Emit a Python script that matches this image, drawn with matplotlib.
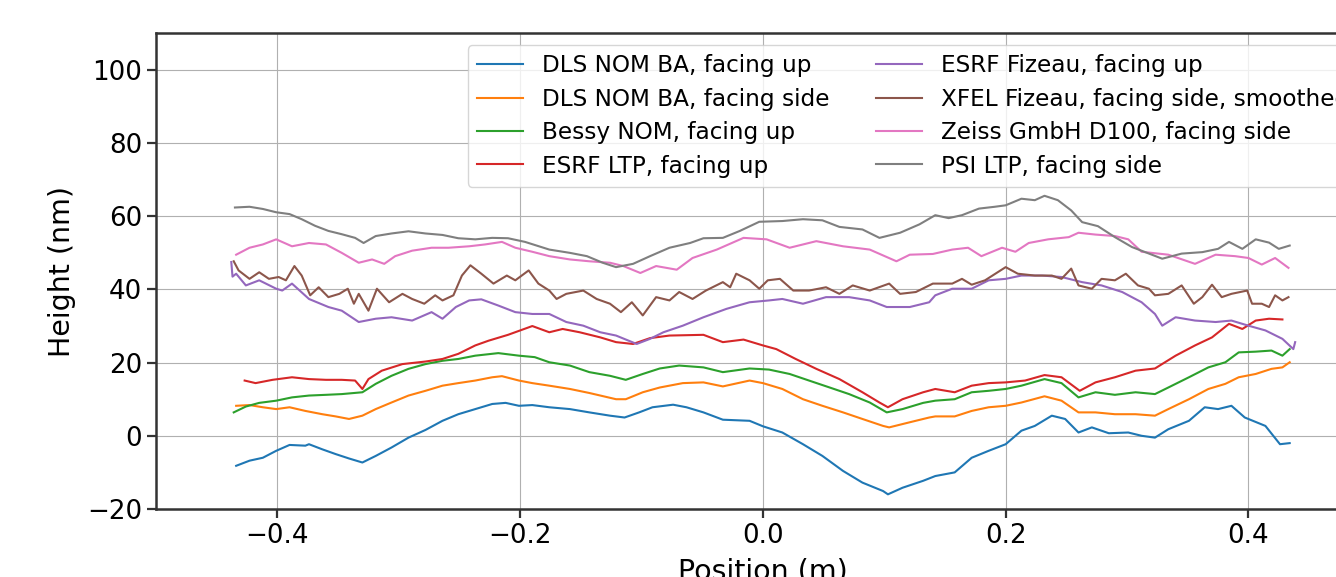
import numpy as np
import matplotlib
matplotlib.use("Agg")
import matplotlib.pyplot as plt

# (position m, height nm)
dls_up = [(-0.434, -8.2), (-0.423, -6.8), (-0.412, -6.0), (-0.401, -4.1), (-0.390, -2.5), (-0.377, -2.7),
          (-0.374, -2.3), (-0.363, -3.7), (-0.352, -5.0), (-0.341, -6.2), (-0.330, -7.3), (-0.319, -5.5),
          (-0.306, -3.2), (-0.292, -0.5), (-0.278, 1.6), (-0.264, 4.1), (-0.251, 5.9), (-0.237, 7.3),
          (-0.223, 8.7), (-0.212, 9.0), (-0.201, 8.2), (-0.190, 8.4), (-0.176, 7.8), (-0.159, 7.3),
          (-0.143, 6.4), (-0.126, 5.5), (-0.114, 5.0), (-0.102, 6.4), (-0.091, 7.8), (-0.074, 8.5),
          (-0.063, 7.8), (-0.049, 6.4), (-0.033, 4.4), (-0.011, 4.1), (0.000, 2.6), (0.016, 0.9),
          (0.033, -2.3), (0.049, -5.5), (0.066, -9.6), (0.082, -12.8), (0.099, -15.1), (0.103, -16.0),
          (0.115, -14.2), (0.132, -12.3), (0.142, -11.0), (0.158, -10.0), (0.172, -6.0), (0.186, -4.1),
          (0.200, -2.3), (0.213, 1.4), (0.224, 2.7), (0.238, 5.5), (0.249, 4.6), (0.260, 0.9),
          (0.271, 2.3), (0.285, 0.7), (0.301, 0.9), (0.312, 0.0), (0.323, -0.5), (0.334, 1.8),
          (0.351, 4.1), (0.364, 7.8), (0.375, 7.3), (0.386, 8.2), (0.397, 5.0), (0.414, 2.7),
          (0.426, -2.3), (0.434, -2.0)]

dls_side = [(-0.434, 8.2), (-0.423, 8.4), (-0.412, 7.8), (-0.401, 7.3), (-0.390, 7.8), (-0.377, 6.8),
            (-0.363, 5.9), (-0.352, 5.3), (-0.341, 4.6), (-0.330, 5.5), (-0.319, 7.3), (-0.306, 9.1),
            (-0.292, 11.0), (-0.278, 12.3), (-0.264, 13.7), (-0.251, 14.4), (-0.237, 15.1), (-0.223, 16.0),
            (-0.215, 16.3), (-0.201, 15.1), (-0.190, 14.4), (-0.176, 13.7), (-0.159, 12.8), (-0.143, 11.7),
            (-0.121, 10.0), (-0.113, 10.0), (-0.099, 11.9), (-0.085, 13.2), (-0.066, 14.4), (-0.049, 14.6),
            (-0.033, 13.5), (-0.011, 15.1), (0.000, 14.4), (0.016, 12.8), (0.033, 10.0), (0.049, 8.2),
            (0.066, 6.4), (0.082, 4.6), (0.099, 2.7), (0.104, 2.3), (0.121, 3.7), (0.137, 5.0),
            (0.142, 5.3), (0.158, 5.3), (0.172, 6.8), (0.186, 7.8), (0.200, 8.2), (0.213, 9.1),
            (0.232, 10.8), (0.246, 9.6), (0.260, 6.4), (0.274, 6.4), (0.290, 5.9), (0.307, 5.9),
            (0.323, 5.5), (0.334, 7.3), (0.351, 10.0), (0.367, 12.8), (0.381, 14.2), (0.392, 16.0),
            (0.406, 16.9), (0.419, 18.3), (0.428, 18.7), (0.434, 20.1)]

bessy_up = [(-0.436, 6.4), (-0.426, 8.0), (-0.415, 9.0), (-0.401, 9.6), (-0.388, 10.5), (-0.374, 11.0),
            (-0.360, 11.2), (-0.347, 11.4), (-0.330, 11.9), (-0.319, 14.2), (-0.306, 16.4), (-0.292, 18.3),
            (-0.278, 19.6), (-0.264, 20.5), (-0.251, 21.0), (-0.237, 21.9), (-0.218, 22.6), (-0.201, 21.9),
            (-0.188, 21.5), (-0.176, 20.1), (-0.159, 19.2), (-0.143, 17.4), (-0.126, 16.4), (-0.113, 15.3),
            (-0.099, 16.9), (-0.085, 18.4), (-0.069, 19.2), (-0.049, 18.7), (-0.033, 17.4), (-0.011, 18.4),
            (0.005, 18.1), (0.022, 16.9), (0.038, 15.1), (0.055, 13.2), (0.071, 11.4), (0.088, 9.1),
            (0.102, 6.4), (0.115, 7.3), (0.132, 9.0), (0.142, 9.6), (0.158, 10.0), (0.172, 11.9),
            (0.186, 12.3), (0.200, 12.8), (0.213, 13.7), (0.232, 15.5), (0.246, 14.4), (0.260, 10.5),
            (0.274, 11.9), (0.290, 11.2), (0.307, 11.9), (0.323, 11.4), (0.334, 13.2), (0.351, 16.0),
            (0.367, 18.7), (0.381, 20.1), (0.392, 22.8), (0.406, 23.0), (0.419, 23.3), (0.428, 21.9),
            (0.434, 23.7)]

esrf_ltp = [(-0.427, 15.1), (-0.418, 14.4), (-0.404, 15.3), (-0.388, 16.0), (-0.374, 15.5), (-0.360, 15.3),
            (-0.347, 15.3), (-0.336, 15.1), (-0.330, 12.8), (-0.325, 15.5), (-0.314, 17.8), (-0.297, 19.6),
            (-0.278, 20.3), (-0.264, 21.0), (-0.251, 22.4), (-0.237, 24.7), (-0.226, 26.0), (-0.210, 27.6),
            (-0.190, 30.0), (-0.176, 28.3), (-0.165, 29.2), (-0.151, 28.3), (-0.134, 26.9), (-0.121, 25.6),
            (-0.107, 25.1), (-0.093, 26.7), (-0.077, 27.4), (-0.049, 27.6), (-0.033, 25.6), (-0.016, 26.3),
            (0.000, 24.7), (0.011, 23.7), (0.027, 21.0), (0.044, 18.3), (0.063, 15.5), (0.082, 11.9),
            (0.096, 9.1), (0.103, 7.8), (0.115, 10.0), (0.132, 11.9), (0.142, 12.8), (0.158, 11.9),
            (0.172, 13.7), (0.186, 14.4), (0.200, 14.6), (0.216, 15.1), (0.232, 16.6), (0.246, 16.0),
            (0.261, 12.3), (0.274, 14.6), (0.290, 16.0), (0.307, 17.8), (0.323, 18.4), (0.340, 21.9),
            (0.356, 24.7), (0.370, 26.9), (0.384, 30.6), (0.395, 29.2), (0.406, 31.5), (0.417, 32.0),
            (0.428, 31.8)]

esrf_fizeau = [(-0.438, 47.5), (-0.437, 43.5), (-0.434, 44.3), (-0.426, 41.1), (-0.415, 42.5), (-0.401, 40.2),
               (-0.396, 39.7), (-0.388, 41.6), (-0.374, 37.4), (-0.358, 35.2), (-0.347, 34.2), (-0.333, 31.1),
               (-0.319, 32.0), (-0.306, 32.4), (-0.289, 31.5), (-0.273, 33.8), (-0.264, 32.0), (-0.253, 35.2),
               (-0.242, 37.0), (-0.232, 37.3), (-0.218, 35.6), (-0.204, 33.8), (-0.190, 33.3), (-0.176, 33.3),
               (-0.162, 31.1), (-0.148, 30.1), (-0.134, 28.3), (-0.121, 27.4), (-0.104, 25.1), (-0.093, 26.5),
               (-0.082, 28.3), (-0.066, 30.1), (-0.049, 32.4), (-0.030, 34.7), (-0.011, 36.5), (0.005, 37.0),
               (0.016, 37.4), (0.033, 36.1), (0.052, 37.9), (0.071, 37.9), (0.088, 37.0), (0.102, 35.2),
               (0.121, 35.2), (0.137, 36.5), (0.142, 38.4), (0.156, 40.2), (0.172, 40.2), (0.186, 42.5),
               (0.200, 42.9), (0.213, 43.8), (0.230, 43.8), (0.246, 43.4), (0.263, 42.0), (0.279, 41.1),
               (0.296, 39.3), (0.312, 36.5), (0.323, 33.3), (0.329, 30.1), (0.340, 32.4), (0.356, 31.5),
               (0.373, 31.1), (0.386, 31.5), (0.400, 30.1), (0.414, 28.8), (0.428, 26.5), (0.437, 23.7),
               (0.4385, 25.6)]

xfel_fizeau = [(-0.436, 47.7), (-0.432, 45.2), (-0.423, 42.9), (-0.415, 44.7), (-0.407, 42.9), (-0.399, 43.4),
               (-0.393, 42.5), (-0.386, 46.4), (-0.380, 43.8), (-0.373, 38.4), (-0.366, 40.6), (-0.358, 37.9),
               (-0.349, 38.8), (-0.342, 40.2), (-0.337, 36.1), (-0.333, 38.8), (-0.325, 34.2), (-0.318, 40.2),
               (-0.308, 36.5), (-0.297, 38.8), (-0.289, 37.4), (-0.279, 36.1), (-0.270, 38.4), (-0.264, 37.0),
               (-0.255, 38.4), (-0.248, 43.8), (-0.241, 46.6), (-0.232, 44.3), (-0.222, 41.6), (-0.211, 43.8),
               (-0.204, 42.5), (-0.193, 45.2), (-0.185, 41.6), (-0.176, 39.7), (-0.170, 37.4), (-0.162, 38.8),
               (-0.148, 39.7), (-0.137, 37.4), (-0.126, 36.1), (-0.117, 33.8), (-0.108, 36.5), (-0.099, 32.9),
               (-0.088, 37.9), (-0.077, 37.0), (-0.069, 39.3), (-0.058, 37.4), (-0.047, 39.7), (-0.033, 42.0),
               (-0.027, 40.6), (-0.022, 44.3), (-0.011, 42.5), (-0.003, 40.2), (0.004, 42.5), (0.014, 42.9),
               (0.025, 39.7), (0.038, 39.7), (0.052, 40.6), (0.063, 38.8), (0.074, 41.1), (0.088, 39.7),
               (0.104, 41.6), (0.113, 38.8), (0.126, 39.3), (0.140, 41.6), (0.156, 41.6), (0.164, 42.9),
               (0.172, 41.3), (0.183, 42.5), (0.200, 46.1), (0.210, 44.3), (0.224, 43.8), (0.238, 43.8),
               (0.246, 42.9), (0.254, 45.7), (0.260, 41.1), (0.271, 40.2), (0.279, 42.9), (0.290, 42.5),
               (0.299, 44.3), (0.309, 41.1), (0.318, 40.2), (0.323, 38.4), (0.334, 38.8), (0.345, 41.1),
               (0.355, 36.1), (0.362, 37.9), (0.370, 41.3), (0.378, 37.9), (0.386, 38.8), (0.399, 39.7),
               (0.403, 36.1), (0.411, 36.1), (0.417, 35.2), (0.422, 38.4), (0.428, 37.0), (0.433, 37.9)]

zeiss_side = [(-0.434, 49.5), (-0.423, 51.4), (-0.412, 52.3), (-0.401, 53.7), (-0.388, 51.8), (-0.374, 52.7),
              (-0.360, 52.3), (-0.347, 50.0), (-0.333, 47.3), (-0.322, 48.2), (-0.312, 47.0), (-0.303, 49.1),
              (-0.289, 50.6), (-0.273, 51.4), (-0.259, 51.4), (-0.242, 51.8), (-0.229, 52.3), (-0.215, 53.0),
              (-0.204, 51.4), (-0.190, 50.3), (-0.176, 49.1), (-0.159, 48.2), (-0.143, 47.7), (-0.126, 47.3),
              (-0.115, 46.4), (-0.101, 44.5), (-0.088, 46.4), (-0.071, 45.4), (-0.058, 48.6), (-0.038, 50.9),
              (-0.016, 54.1), (0.003, 53.7), (0.022, 51.4), (0.044, 53.2), (0.066, 51.8), (0.088, 50.9),
              (0.110, 47.7), (0.121, 49.5), (0.140, 49.7), (0.156, 50.9), (0.169, 51.4), (0.180, 49.1),
              (0.197, 51.4), (0.208, 50.3), (0.219, 52.7), (0.235, 53.7), (0.252, 54.3), (0.260, 55.5),
              (0.274, 55.0), (0.290, 54.6), (0.301, 53.7), (0.312, 50.3), (0.334, 49.5), (0.356, 47.0),
              (0.373, 49.5), (0.389, 49.1), (0.400, 48.6), (0.411, 46.8), (0.422, 48.6), (0.433, 45.9)]

psi_side = [(-0.435, 62.4), (-0.423, 62.6), (-0.412, 62.0), (-0.401, 61.1), (-0.390, 60.6), (-0.380, 59.2),
            (-0.369, 57.4), (-0.358, 56.0), (-0.347, 55.1), (-0.336, 54.1), (-0.329, 52.7), (-0.319, 54.6),
            (-0.306, 55.3), (-0.292, 55.9), (-0.278, 55.3), (-0.264, 54.9), (-0.251, 54.0), (-0.237, 53.7),
            (-0.223, 54.1), (-0.210, 54.0), (-0.196, 53.0), (-0.176, 50.9), (-0.159, 50.0), (-0.145, 49.1),
            (-0.132, 47.3), (-0.121, 46.1), (-0.107, 47.0), (-0.093, 49.1), (-0.077, 51.4), (-0.060, 52.7),
            (-0.049, 54.0), (-0.033, 54.1), (-0.019, 56.0), (-0.003, 58.5), (0.016, 58.7), (0.033, 59.2),
            (0.049, 58.9), (0.063, 57.1), (0.082, 56.4), (0.096, 54.1), (0.113, 55.5), (0.129, 57.8),
            (0.142, 60.3), (0.153, 59.5), (0.164, 60.3), (0.178, 62.1), (0.191, 62.6), (0.200, 63.0),
            (0.213, 64.8), (0.224, 64.4), (0.232, 65.6), (0.243, 64.4), (0.254, 61.6), (0.263, 58.4),
            (0.276, 57.3), (0.290, 54.3), (0.304, 51.6), (0.315, 50.2), (0.329, 48.4), (0.345, 49.8),
            (0.362, 50.2), (0.375, 51.1), (0.384, 53.0), (0.395, 51.1), (0.406, 53.7), (0.417, 52.8),
            (0.425, 51.1), (0.434, 52.0)]

series = [
    ("DLS NOM BA, facing up", dls_up),
    ("DLS NOM BA, facing side", dls_side),
    ("Bessy NOM, facing up", bessy_up),
    ("ESRF LTP, facing up", esrf_ltp),
    ("ESRF Fizeau, facing up", esrf_fizeau),
    ("XFEL Fizeau, facing side, smoothed", xfel_fizeau),
    ("Zeiss GmbH D100, facing side", zeiss_side),
    ("PSI LTP, facing side", psi_side),
]

plt.rcParams["font.size"] = 20.5
plt.rcParams["axes.linewidth"] = 1.8

fig = plt.figure(figsize=(13.36, 5.77), dpi=100)
# axes run past the right edge like in the cropped original
ax = fig.add_axes([0.1168, 0.1179, 0.9085, 0.8243])

for name, pts in series:
    arr = np.array(pts)
    ax.plot(arr[:, 0], arr[:, 1], lw=1.5, label=name)

ax.set_xlim(-0.5, 0.5)
ax.set_ylim(-20, 110)
ax.set_xticks([-0.4, -0.2, 0.0, 0.2, 0.4])
ax.set_yticks([-20, 0, 20, 40, 60, 80, 100])
ax.grid(True, color="#b0b0b0", lw=0.8)
for s in ax.spines.values():
    s.set_color("#333333")
ax.tick_params(length=6.5, width=1.6, color="#333333", labelsize=18.8)
ax.set_xlabel("Position (m)", labelpad=6)
ax.set_ylabel("Height (nm)", labelpad=8)
ax.legend(loc="upper right", ncol=2, fontsize=16.7, labelspacing=0.45)

fig.savefig("out.png", dpi=100)
